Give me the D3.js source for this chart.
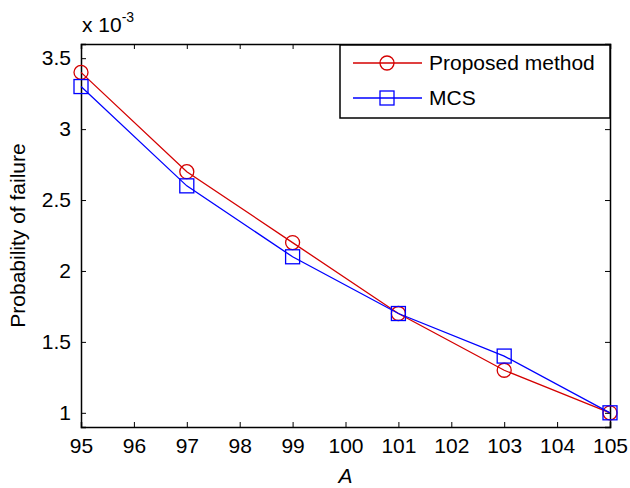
<!DOCTYPE html>
<html>
<head>
<meta charset="utf-8">
<script src="https://cdn.jsdelivr.net/npm/d3@7"></script>
<style>
  body { margin: 0; background: #fff; }
  text { font-family: "Liberation Sans", Arial, sans-serif; fill: #000; }
</style>
</head>
<body>
<svg id="chart" width="630" height="488"></svg>
<script>
// data
const xValues = [95, 97, 99, 101, 103, 105];
const proposed = [3.4, 2.7, 2.2, 1.7, 1.3, 1.0];
const mcs = [3.3, 2.6, 2.1, 1.7, 1.4, 1.0];
const xTicks = [95, 96, 97, 98, 99, 100, 101, 102, 103, 104, 105];
const yTicks = [1, 1.5, 2, 2.5, 3, 3.5];
const seriesNames = ["Proposed method", "MCS"];

const svg = d3.select("#chart");
const margin = { top: 44, right: 20, bottom: 61, left: 81 };
const width = 630 - margin.left - margin.right;
const height = 488 - margin.top - margin.bottom;

const g = svg.append("g")
    .attr("transform", `translate(${margin.left}, ${margin.top})`);

const xScale = d3.scaleLinear().domain([95, 105]).range([0, width]);
const yScale = d3.scaleLinear().domain([0.9, 3.6]).range([height, 0]);

// axes, ticks pointing inward like matlab
const fs = "21px";
g.append("g")
    .attr("transform", `translate(0, ${height})`)
    .call(d3.axisBottom(xScale).tickValues(xTicks).tickSize(-5).tickPadding(11).tickFormat(d3.format("d")));
g.append("g")
    .call(d3.axisLeft(yScale).tickValues(yTicks).tickSize(-5).tickPadding(10).tickFormat(d => d));
g.append("g")
    .call(d3.axisTop(xScale).tickValues(xTicks).tickSize(-5).tickFormat(""));
g.append("g")
    .attr("transform", `translate(${width}, 0)`)
    .call(d3.axisRight(yScale).tickValues(yTicks).tickSize(-5).tickFormat(""));

g.selectAll(".domain").attr("stroke", "#000").attr("stroke-width", 1.5);
g.selectAll(".tick line").attr("stroke", "#000");
g.selectAll(".tick text").style("font-size", fs).attr("fill", "#000");

// exponent label
svg.append("text")
    .attr("x", 82).attr("y", 32)
    .style("font-size", fs)
    .html('x 10<tspan dy="-10" style="font-size:14px">-3</tspan>');

// axis labels
svg.append("text")
    .attr("x", margin.left + xScale(100))
    .attr("y", 483)
    .attr("text-anchor", "middle")
    .style("font-size", fs)
    .style("font-style", "italic")
    .text("A");

svg.append("text")
    .attr("transform", `translate(25, ${margin.top + height / 2}) rotate(-90)`)
    .attr("text-anchor", "middle")
    .style("font-size", fs)
    .text("Probability of failure");

// series
const red = "#d40000";
const blue = "#0000ff";
const line = d3.line().x((d, i) => xScale(xValues[i])).y(d => yScale(d));

g.append("path").datum(proposed)
    .attr("d", line).attr("fill", "none").attr("stroke", red).attr("stroke-width", 1.3);
g.selectAll(".circ").data(proposed).enter().append("circle")
    .attr("cx", (d, i) => xScale(xValues[i]))
    .attr("cy", d => yScale(d))
    .attr("r", 7)
    .attr("fill", "none").attr("stroke", red).attr("stroke-width", 1.3);

g.append("path").datum(mcs)
    .attr("d", line).attr("fill", "none").attr("stroke", blue).attr("stroke-width", 1.3);
g.selectAll(".sq").data(mcs).enter().append("rect")
    .attr("x", (d, i) => xScale(xValues[i]) - 7)
    .attr("y", d => yScale(d) - 7)
    .attr("width", 14).attr("height", 14)
    .attr("fill", "none").attr("stroke", blue).attr("stroke-width", 1.3);

// legend
const lg = svg.append("g").attr("transform", "translate(340, 45)");
lg.append("rect")
    .attr("width", 270).attr("height", 73)
    .attr("fill", "#fff").attr("stroke", "#000").attr("stroke-width", 1.5);
const rows = [{ name: seriesNames[0], color: red, mark: "circle" },
              { name: seriesNames[1], color: blue, mark: "square" }];
rows.forEach((r, i) => {
    const y = 18 + i * 35;
    lg.append("line").attr("x1", 13).attr("x2", 82).attr("y1", y).attr("y2", y)
        .attr("stroke", r.color).attr("stroke-width", 1.3);
    if (r.mark === "circle") {
        lg.append("circle").attr("cx", 47).attr("cy", y).attr("r", 7)
            .attr("fill", "none").attr("stroke", r.color).attr("stroke-width", 1.3);
    } else {
        lg.append("rect").attr("x", 40).attr("y", y - 7).attr("width", 14).attr("height", 14)
            .attr("fill", "none").attr("stroke", r.color).attr("stroke-width", 1.3);
    }
    lg.append("text").attr("x", 89).attr("y", y + 7)
        .style("font-size", fs).text(r.name);
});
</script>
</body>
</html>
